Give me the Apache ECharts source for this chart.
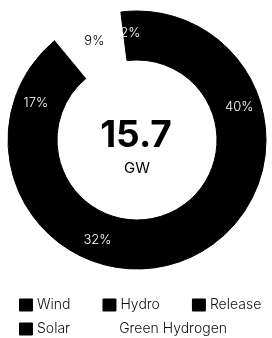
<!DOCTYPE html>
<html>
<head>
<meta charset="utf-8">
<script src="https://cdn.jsdelivr.net/npm/echarts@6/dist/echarts.min.js"></script>
<style>
html,body{margin:0;padding:0;background:#fff;}
#chart{width:272px;height:338px;}
</style>
</head>
<body>
<div id="chart"></div>
<script>
const categories = ['Wind', 'Hydro', 'Release', 'Green Hydrogen', 'Solar'];
const values = [40, 32, 17, 9, 2];
const sliceColors = ['#000', '#000', '#000', '#fff', '#000'];
const labelColors = ['#fff', '#fff', '#fff', '#000', '#fff'];
const legendRow1 = ['Wind', 'Hydro', 'Release'];
const legendRow2 = ['Solar', 'Green Hydrogen'];
const totalText = '15.7';
const unitText = 'GW';

const FONT = 'Inter, Roboto, sans-serif';
const chart = echarts.init(document.getElementById('chart'), null, {renderer: 'canvas'});

const legendBase = {
  left: 14,
  orient: 'horizontal',
  itemWidth: 12,
  itemHeight: 11,
  itemGap: 32,
  icon: 'rect',
  selectedMode: false,
  textStyle: {fontFamily: FONT, fontSize: 14, fontWeight: 300, color: '#111', padding: [0, 0, 0, 0]}
};

chart.setOption({
  animation: false,
  title: [
    {text: totalText, left: 131, top: 112, textAlign: 'center',
     textStyle: {fontFamily: FONT, fontWeight: 'bold', fontSize: 37, color: '#000'}},
    {text: unitText, left: 132, top: 156, textAlign: 'center',
     textStyle: {fontFamily: FONT, fontWeight: 'normal', fontSize: 15, color: '#000'}}
  ],
  legend: [
    Object.assign({}, legendBase, {top: 293, data: legendRow1}),
    Object.assign({}, legendBase, {top: 317, data: legendRow2})
  ],
  series: [{
    type: 'pie',
    center: [137, 140],
    radius: [80, 129],
    startAngle: 90,
    clockwise: true,
    avoidLabelOverlap: false,
    label: {
      show: true,
      position: 'inside',
      formatter: (p) => p.value + '%',
      fontFamily: FONT,
      fontSize: 13,
      fontWeight: 300
    },
    labelLine: {show: false},
    emphasis: {disabled: true},
    data: categories.map((name, i) => ({
      name: name,
      value: values[i],
      itemStyle: {
        color: sliceColors[i],
        borderColor: sliceColors[i],
        borderWidth: sliceColors[i] === '#000' ? 1 : 0
      },
      label: {color: labelColors[i]}
    }))
  }]
});
</script>
</body>
</html>
